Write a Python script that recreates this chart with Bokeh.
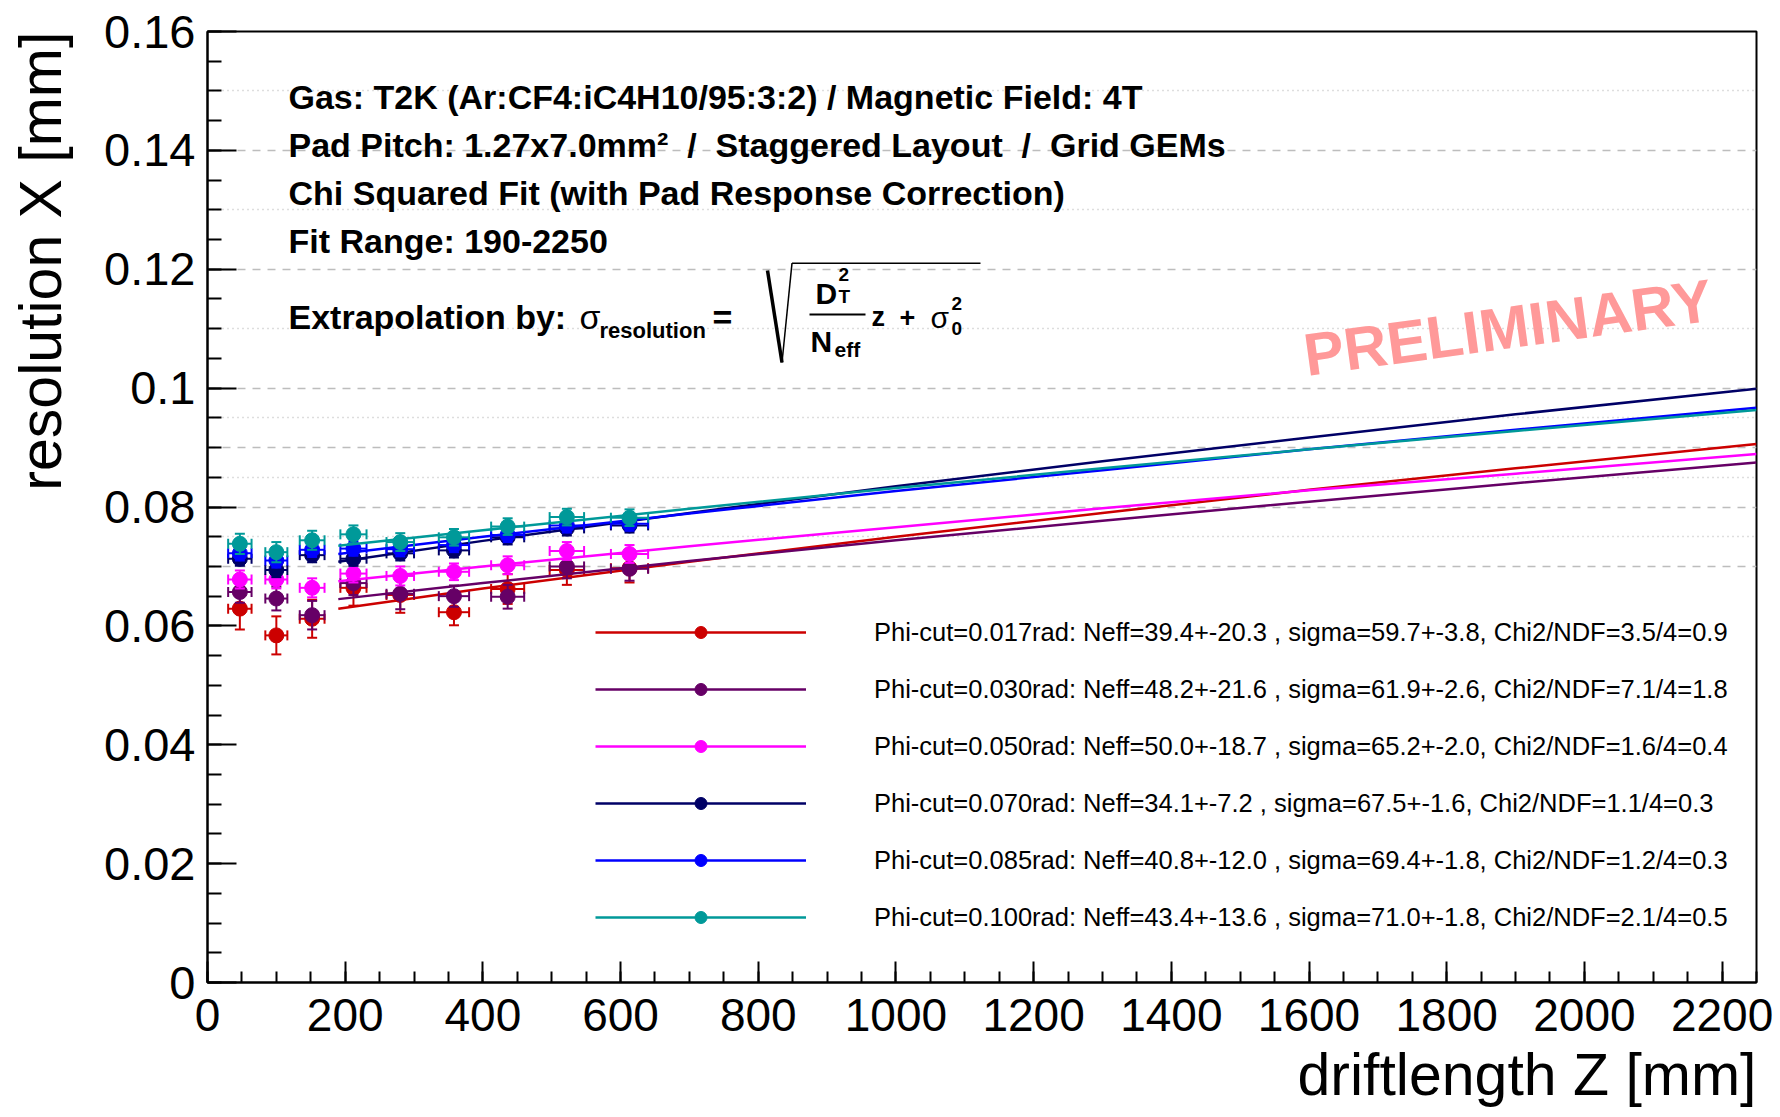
from bokeh.plotting import figure
from bokeh.models import (Range1d, FixedTicker, CustomJSTickFormatter, Grid, Label, Title,
                          Legend, LegendItem, Arrow, LinearAxis)
from bokeh.embed import file_html
from bokeh.resources import INLINE
import math

# ---------------- data ----------------
z_points = [47, 100, 152, 212, 280, 358, 436, 522, 613]
z_err = [17, 16, 18, 19, 20, 22, 24, 25, 27]

res_017 = [0.0629, 0.0584, 0.0612, 0.0664, 0.0652, 0.0623, 0.0662, 0.0694, 0.0697]
err_017 = [0.0035, 0.0032, 0.0032, 0.0030, 0.0030, 0.0022, 0.0025, 0.0025, 0.0024]
res_030 = [0.0657, 0.0646, 0.0618, 0.0672, 0.0654, 0.0650, 0.0649, 0.0700, 0.0696]
err_030 = [0.0018, 0.0020, 0.0024, 0.0020, 0.0026, 0.0018, 0.0020, 0.0020, 0.0020]
res_050 = [0.0678, 0.0678, 0.0664, 0.0688, 0.0684, 0.0691, 0.0702, 0.0726, 0.0721]
err_050 = [0.0015, 0.0015, 0.0016, 0.0015, 0.0016, 0.0014, 0.0015, 0.0015, 0.0015]
res_070 = [0.0713, 0.0694, 0.0719, 0.0713, 0.0722, 0.0727, 0.0749, 0.0764, 0.0769]
err_070 = [0.0012, 0.0012, 0.0012, 0.0012, 0.0012, 0.0012, 0.0012, 0.0012, 0.0012]
res_085 = [0.0722, 0.0710, 0.0728, 0.0730, 0.0729, 0.0736, 0.0753, 0.0769, 0.0772]
err_085 = [0.0012, 0.0012, 0.0012, 0.0012, 0.0012, 0.0012, 0.0012, 0.0012, 0.0012]
res_100 = [0.0738, 0.0724, 0.0744, 0.0754, 0.0741, 0.0749, 0.0767, 0.0783, 0.0782]
err_100 = [0.0017, 0.0017, 0.0016, 0.0015, 0.0015, 0.0014, 0.0014, 0.0014, 0.0014]

fit_z = [190, 400, 700, 1000, 1300, 1600, 1900, 2250]
fit_017 = [0.0629, 0.0663, 0.0708, 0.0750, 0.0790, 0.0829, 0.0865, 0.0906]
fit_030 = [0.0645, 0.0672, 0.0709, 0.0744, 0.0777, 0.0809, 0.0840, 0.0875]
fit_050 = [0.0675, 0.0700, 0.0734, 0.0766, 0.0798, 0.0828, 0.0856, 0.0889]
fit_070 = [0.0708, 0.0743, 0.0790, 0.0835, 0.0877, 0.0917, 0.0956, 0.0999]
fit_085 = [0.0721, 0.0750, 0.0789, 0.0827, 0.0862, 0.0897, 0.0930, 0.0967]
fit_100 = [0.0735, 0.0761, 0.0797, 0.0832, 0.0865, 0.0897, 0.0928, 0.0963]

legend_labels = [
    "Phi-cut=0.017rad: Neff=39.4+-20.3 , sigma=59.7+-3.8, Chi2/NDF=3.5/4=0.9",
    "Phi-cut=0.030rad: Neff=48.2+-21.6 , sigma=61.9+-2.6, Chi2/NDF=7.1/4=1.8",
    "Phi-cut=0.050rad: Neff=50.0+-18.7 , sigma=65.2+-2.0, Chi2/NDF=1.6/4=0.4",
    "Phi-cut=0.070rad: Neff=34.1+-7.2 , sigma=67.5+-1.6, Chi2/NDF=1.1/4=0.3",
    "Phi-cut=0.085rad: Neff=40.8+-12.0 , sigma=69.4+-1.8, Chi2/NDF=1.2/4=0.3",
    "Phi-cut=0.100rad: Neff=43.4+-13.6 , sigma=71.0+-1.8, Chi2/NDF=2.1/4=0.5",
]
colors = ["#cc0000", "#660066", "#ff00ff", "#000066", "#0000ff", "#009999"]

x_ticks = [0, 200, 400, 600, 800, 1000, 1200, 1400, 1600, 1800, 2000, 2200]
x_minor = [v for v in range(0, 2251, 50)]
y_ticks = [0, 0.02, 0.04, 0.06, 0.08, 0.1, 0.12, 0.14, 0.16]
y_minor = [round(i * 0.005, 3) for i in range(0, 33)]
grid_dashed = [0.07, 0.08, 0.09, 0.10, 0.12, 0.14]
grid_dotted = [0.075, 0.085, 0.095, 0.11, 0.13, 0.15]

x_title = "driftlength Z [mm]"
y_title = "resolution X [mm]"
header_lines = [
    "Gas: T2K (Ar:CF4:iC4H10/95:3:2) / Magnetic Field: 4T",
    "Pad Pitch: 1.27x7.0mm\u00b2 \u00a0/\u00a0 Staggered Layout \u00a0/\u00a0 Grid GEMs",
    "Chi Squared Fit (with Pad Response Correction)",
    "Fit Range: 190-2250",
]

# ---------------- figure ----------------
FL, FB = 207, 982  # frame left / bottom in page pixels
FONT = "Liberation Sans"

p = figure(width=1780, height=1117, x_range=Range1d(0, 2250), y_range=Range1d(0, 0.16),
           output_backend="svg", toolbar_location=None,
           min_border_left=FL, min_border_right=24, min_border_top=31, min_border_bottom=135)
p.xgrid.visible = False
p.ygrid.visible = False
p.outline_line_color = "black"
p.outline_line_width = 2
p.background_fill_color = "white"
p.border_fill_color = "white"

for g_ticks, dash, col in [(grid_dashed, "8 7", "#bdbdbd"), (grid_dotted, "1 4", "#bcbcbc")]:
    p.add_layout(Grid(dimension=1, ticker=FixedTicker(ticks=g_ticks), grid_line_color=col,
                      grid_line_dash=dash, grid_line_width=1.5))

xa = p.xaxis[0]
xa.ticker = FixedTicker(ticks=x_ticks, minor_ticks=x_minor)
xa.major_tick_in = 21
xa.major_tick_out = 0
xa.minor_tick_in = 11
xa.minor_tick_out = 0
ya = p.yaxis[0]
ya.ticker = FixedTicker(ticks=y_ticks, minor_ticks=y_minor)
ya.major_tick_in = 29
ya.major_tick_out = 0
ya.minor_tick_in = 14
ya.minor_tick_out = 0
ya.formatter = CustomJSTickFormatter(code="return tick.toString();")
for ax in (xa, ya):
    ax.axis_line_width = 2
    ax.axis_line_color = "black"
    ax.major_tick_line_width = 2
    ax.minor_tick_line_width = 2
    ax.major_tick_line_color = "black"
    ax.minor_tick_line_color = "black"
    ax.major_label_text_font = FONT
    ax.major_label_text_color = "black"
xa.major_label_text_font_size = "46px"
ya.major_label_text_font_size = "47px"
xa.major_label_standoff = 16
ya.major_label_standoff = 12

# y title: label of a tick-less outer axis; the label is centred on the frame, so
# leading no-break spaces push the visible words up to the top, as in the original.
yt = LinearAxis(ticker=FixedTicker(ticks=[]), axis_label="\u00a0" * 30 + y_title,
                axis_label_standoff=28, axis_line_color=None, major_tick_line_color=None,
                minor_tick_line_color=None, major_tick_in=0, major_tick_out=0,
                minor_tick_in=0, minor_tick_out=0, axis_label_text_font=FONT,
                axis_label_text_font_size="59px", axis_label_text_font_style="normal",
                axis_label_text_color="black")
p.add_layout(yt, "left")
p.add_layout(Title(text=x_title, align="right", text_font=FONT, text_font_size="59px",
                   text_font_style="normal", text_color="black", standoff=13), "below")

# ---------------- series ----------------
series = [(res_017, err_017, fit_017), (res_030, err_030, fit_030), (res_050, err_050, fit_050),
          (res_070, err_070, fit_070), (res_085, err_085, fit_085), (res_100, err_100, fit_100)]
items = []
for (res, err, fit), col, lab in zip(series, colors, legend_labels):
    fl = p.line(fit_z, fit, line_color=col, line_width=2.5)
    ylo = [v - e for v, e in zip(res, err)]
    yhi = [v + e for v, e in zip(res, err)]
    xlo = [v - e for v, e in zip(z_points, z_err)]
    xhi = [v + e for v, e in zip(z_points, z_err)]
    p.segment(z_points, ylo, z_points, yhi, line_color=col, line_width=2)
    p.segment(xlo, res, xhi, res, line_color=col, line_width=2)
    p.scatter(z_points, ylo, marker="dash", size=10, line_color=col, line_width=2)
    p.scatter(z_points, yhi, marker="dash", size=10, line_color=col, line_width=2)
    p.scatter(xlo, res, marker="dash", size=10, angle=math.pi / 2, line_color=col, line_width=2)
    p.scatter(xhi, res, marker="dash", size=10, angle=math.pi / 2, line_color=col, line_width=2)
    sc = p.scatter(z_points, res, marker="circle", size=15, fill_color=col, line_color=col)
    items.append(LegendItem(label=lab, renderers=[fl, sc]))

legend = Legend(items=items, location=(388, 50), orientation="vertical", glyph_width=211,
                glyph_height=30, label_height=30, spacing=27, label_standoff=68, padding=0,
                margin=0, border_line_alpha=0, background_fill_alpha=0,
                label_text_font=FONT, label_text_font_size="25.5px", label_text_color="black")
p.add_layout(legend)


# ---------------- annotations (page-pixel positions converted to frame screen units) ----------------
def lab(text, X, Y, size, style="bold", color="black", angle=0.0, align="left"):
    corr = 7 + 0.15 * size  # compensate the renderer's baseline placement
    dx = -corr * math.sin(angle)
    dy = corr * math.cos(angle)
    p.add_layout(Label(x=X - FL + dx, y=FB - Y + dy, x_units="screen", y_units="screen",
                       text=text, text_font=FONT, text_font_size=f"{size}px",
                       text_font_style=style, text_color=color, angle=angle,
                       text_align=align, text_baseline="alphabetic"))


def seg(X0, Y0, X1, Y1, w):
    p.add_layout(Arrow(start=None, end=None, x_start=X0 - FL, y_start=FB - Y0, x_end=X1 - FL,
                       y_end=FB - Y1, start_units="screen", end_units="screen",
                       line_width=w, line_color="black"))


for i, t in enumerate(header_lines):
    lab(t, 288, 109 + i * 47.7, 34)

lab("Extrapolation by:", 288, 329, 34)
lab("\u03c3", 579, 329, 34, style="normal")
lab("resolution", 599, 340, 22)
lab("=", 712, 329, 34)
seg(767, 270, 781.5, 362, 3.5)
seg(781.5, 362, 791.5, 262.7, 1.5)
seg(791.5, 262.7, 980, 262.7, 1.5)
lab("D", 815, 304, 30)
lab("2", 838, 284, 19)
lab("T", 838, 306, 19)
seg(809, 314, 865, 314, 2)
lab("N", 810, 352, 30)
lab("eff", 834, 359, 21)
lab("z", 871, 328, 27)
lab("+", 899, 328, 27)
lab("\u03c3", 930, 328, 30, style="normal")
lab("2", 951, 313, 19)
lab("0", 951, 338, 19)

lab("PRELIMINARY", 1306, 371, 60, color="#ff9999", angle=0.136)

open("out.html", "w").write(file_html(p, INLINE))
